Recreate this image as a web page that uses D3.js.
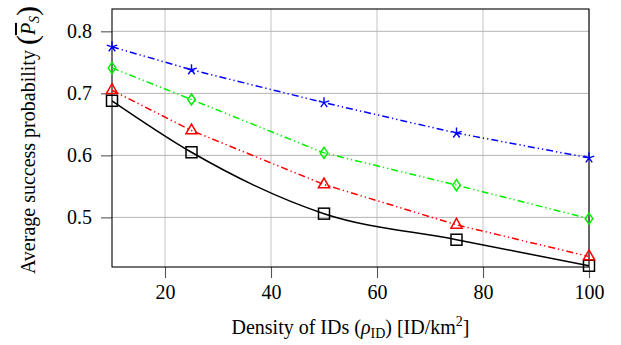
<!DOCTYPE html>
<html>
<head>
<meta charset="utf-8">
<script src="https://cdn.jsdelivr.net/npm/d3@7/dist/d3.min.js"></script>
<style>
  body { margin: 0; background: #fff; }
  svg text { font-family: "Liberation Serif", "DejaVu Serif", serif; fill: #000; }
</style>
</head>
<body>
<div id="chart"></div>
<script>
// Données
const densities = [10, 25, 50, 75, 100];
const starSeries = [0.775, 0.738, 0.685, 0.636, 0.596];
const diamondSeries = [0.741, 0.690, 0.604, 0.552, 0.498];
const triangleSeries = [0.705, 0.640, 0.553, 0.488, 0.437];
const squareSeries = [0.688, 0.605, 0.506, 0.464, 0.422];
const xTicks = [20, 40, 60, 80, 100];
const yTicks = [0.5, 0.6, 0.7, 0.8];

const W = 621, H = 345;
const margin = {top: 9, right: 32, bottom: 78, left: 112};
const width = W - margin.left - margin.right;
const height = H - margin.top - margin.bottom;

const svg = d3.select("#chart").append("svg")
    .attr("width", W).attr("height", H);
const g = svg.append("g")
    .attr("transform", `translate(${margin.left},${margin.top})`);

const x = d3.scaleLinear().domain([10, 100]).range([0, width]);
const y = d3.scaleLinear().domain([0.42, 0.836]).range([height, 0]);

// Grille
g.selectAll(".vgrid").data(xTicks).enter().append("line")
    .attr("x1", d => x(d)).attr("x2", d => x(d))
    .attr("y1", 0).attr("y2", height)
    .attr("stroke", "#c4c4c4").attr("stroke-width", 1);
g.selectAll(".hgrid").data(yTicks).enter().append("line")
    .attr("x1", 0).attr("x2", width)
    .attr("y1", d => y(d)).attr("y2", d => y(d))
    .attr("stroke", "#b4b4b4").attr("stroke-width", 1);

// Axes
const xAxis = g.append("g")
    .attr("transform", `translate(0,${height})`)
    .call(d3.axisBottom(x).tickValues(xTicks).tickSize(11).tickPadding(7).tickFormat(d3.format("d")));
const yAxis = g.append("g")
    .call(d3.axisLeft(y).tickValues(yTicks).tickSize(11).tickPadding(9).tickFormat(d3.format(".1f")));
[xAxis, yAxis].forEach(a => {
    a.attr("font-family", null).attr("font-size", null);
    a.select(".domain").remove();
    a.selectAll(".tick line").attr("stroke", "#555").attr("stroke-width", 1.1);
    a.selectAll(".tick text").style("font-size", "20px");
});

// Cadre
g.append("rect").attr("x", 0).attr("y", 0).attr("width", width).attr("height", height)
    .attr("fill", "none").attr("stroke", "#000").attr("stroke-width", 1.1);

// Courbes
const dashDotDot = "7,3,1.3,3,1.3,3";
const series = [
    {values: squareSeries, color: "#000", dash: null, marker: "square", curve: d3.curveMonotoneX},
    {values: triangleSeries, color: "#ff0000", dash: dashDotDot, marker: "triangle", curve: d3.curveLinear},
    {values: diamondSeries, color: "#00ee00", dash: dashDotDot, marker: "diamond", curve: d3.curveLinear},
    {values: starSeries, color: "#0000ff", dash: dashDotDot, marker: "star", curve: d3.curveLinear}
];

series.forEach(s => {
    const pts = densities.map((d, i) => [d, s.values[i]]);
    const line = d3.line().x(d => x(d[0])).y(d => y(d[1])).curve(s.curve);
    g.append("path").datum(pts)
        .attr("d", line)
        .attr("fill", "none")
        .attr("stroke", s.color)
        .attr("stroke-width", 1.5)
        .attr("stroke-dasharray", s.dash);

    const m = g.selectAll(null).data(pts).enter().append("g")
        .attr("transform", d => `translate(${x(d[0])},${y(d[1])})`);
    if (s.marker === "square") {
        m.append("rect").attr("x", -5.5).attr("y", -5.5).attr("width", 11).attr("height", 11)
            .attr("fill", "none").attr("stroke", s.color).attr("stroke-width", 1.5);
    } else if (s.marker === "triangle") {
        m.append("path").attr("d", "M0,-6.5L5.6,3.3L-5.6,3.3Z")
            .attr("fill", "none").attr("stroke", s.color).attr("stroke-width", 1.5);
    } else if (s.marker === "diamond") {
        m.append("path").attr("d", "M0,-5.5L3.8,0L0,5.5L-3.8,0Z")
            .attr("fill", "none").attr("stroke", s.color).attr("stroke-width", 1.5);
    } else {
        const arms = d3.range(5).map(k => {
            const a = -Math.PI / 2 + k * 2 * Math.PI / 5;
            return `M0,0L${5.5 * Math.cos(a)},${5.5 * Math.sin(a)}`;
        }).join("");
        m.append("path").attr("d", arms)
            .attr("fill", "none").attr("stroke", s.color).attr("stroke-width", 1.4);
    }
});

// Titre axe X
const xl = svg.append("text")
    .attr("x", margin.left + width / 2).attr("y", 334)
    .attr("text-anchor", "middle").style("font-size", "20px");
xl.append("tspan").text("Density of IDs (");
xl.append("tspan").attr("font-style", "italic").text("ρ");
xl.append("tspan").attr("dy", 4).style("font-size", "14px").text("ID");
xl.append("tspan").attr("dy", -4).text(") [ID/km");
xl.append("tspan").attr("dy", -8).style("font-size", "14px").text("2");
xl.append("tspan").attr("dy", 8).text("]");

// Titre axe Y
const yl = svg.append("text")
    .attr("transform", `translate(35,${140}) rotate(-90)`)
    .attr("text-anchor", "middle").style("font-size", "20px");
yl.append("tspan").text("Average success probability ");
yl.append("tspan").style("font-size", "30px").attr("dy", 2).text("(");
yl.append("tspan").attr("font-style", "italic").attr("dy", -2).style("text-decoration", "overline").text("P");
yl.append("tspan").attr("font-style", "italic").attr("dy", 4).style("font-size", "14px").text("S");
yl.append("tspan").style("font-size", "30px").attr("dy", -2).text(")");
</script>
</body>
</html>
